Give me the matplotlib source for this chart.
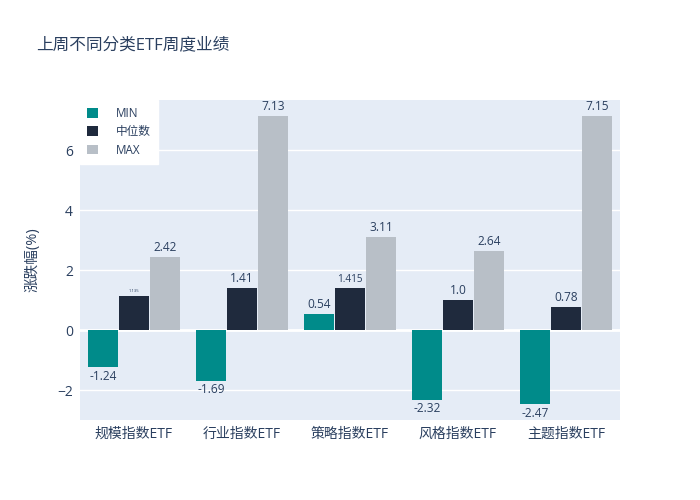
import matplotlib
matplotlib.use("Agg")
import matplotlib.pyplot as plt
import numpy as np

plt.rcParams["font.family"] = ["Open Sans", "Noto Sans CJK SC", "DejaVu Sans"]

categories = ["规模指数ETF", "行业指数ETF", "策略指数ETF", "风格指数ETF", "主题指数ETF"]
min_vals = [-1.24, -1.69, 0.54, -2.32, -2.47]
med_vals = [1.135, 1.41, 1.415, 1.0, 0.78]
max_vals = [2.42, 7.13, 3.11, 2.64, 7.15]
med_labels = ["1.135", "1.41", "1.415", "1.0", "0.78"]

TXT = "#2a3f5f"
fig = plt.figure(figsize=(7, 5), dpi=100)
ax = fig.add_axes([80 / 700, 80 / 500, 540 / 700, 320 / 500])
ax.set_facecolor("#E5ECF6")

x = np.arange(len(categories))
w = 0.278
off = 0.287
series = [
    ("MIN", min_vals, "#008B8A", [f"{v}" for v in min_vals]),
    ("中位数", med_vals, "#1F2A3D", med_labels),
    ("MAX", max_vals, "#B8BFC7", [f"{v}" for v in max_vals]),
]
for i, (name, vals, col, labs) in enumerate(series):
    xs = x + (i - 1) * off
    ax.bar(xs, vals, w, color=col, label=name, zorder=3)
    for xi, v, lab in zip(xs, vals, labs):
        fs = 8.6
        if name == "中位数" and xi < 0.5:
            fs = 3.0
        elif lab == "1.415":
            fs = 7.2
        if v >= 0:
            ax.text(xi, v + 0.1, lab, ha="center", va="bottom", fontsize=fs, color=TXT, zorder=4)
        else:
            ax.text(xi, v - 0.08, lab, ha="center", va="top", fontsize=fs, color=TXT, zorder=4)

ax.set_xlim(-0.5, 4.5)
ax.set_ylim(-3.0, 7.67)
ax.set_yticks([-2, 0, 2, 4, 6])
ax.set_yticklabels(["\u22122", "0", "2", "4", "6"])
ax.set_xticks(x)
ax.set_xticklabels(categories)
ax.tick_params(length=0, labelsize=10, colors=TXT, pad=5)
ax.grid(axis="y", color="white", linewidth=1, zorder=0)
ax.axhline(0, color="white", linewidth=2, zorder=2)
for s in ax.spines.values():
    s.set_visible(False)
ax.set_ylabel("涨跌幅(%)", fontsize=10.5, color=TXT, labelpad=12)

leg = ax.legend(loc="upper left", bbox_to_anchor=(0, 1), frameon=True, fontsize=8.4,
                handlelength=0.9, handleheight=0.9, borderpad=0.6, labelspacing=0.45,
                handletextpad=1.6, fancybox=False, borderaxespad=0)
leg.get_frame().set_facecolor("white")
leg.get_frame().set_edgecolor("white")
leg.get_frame().set_alpha(1)
for t in leg.get_texts():
    t.set_color(TXT)

fig.text(36 / 700, 1 - 45 / 500, "上周不同分类ETF周度业绩", fontsize=12, color=TXT, va="center")

fig.savefig("out.png", dpi=100)
